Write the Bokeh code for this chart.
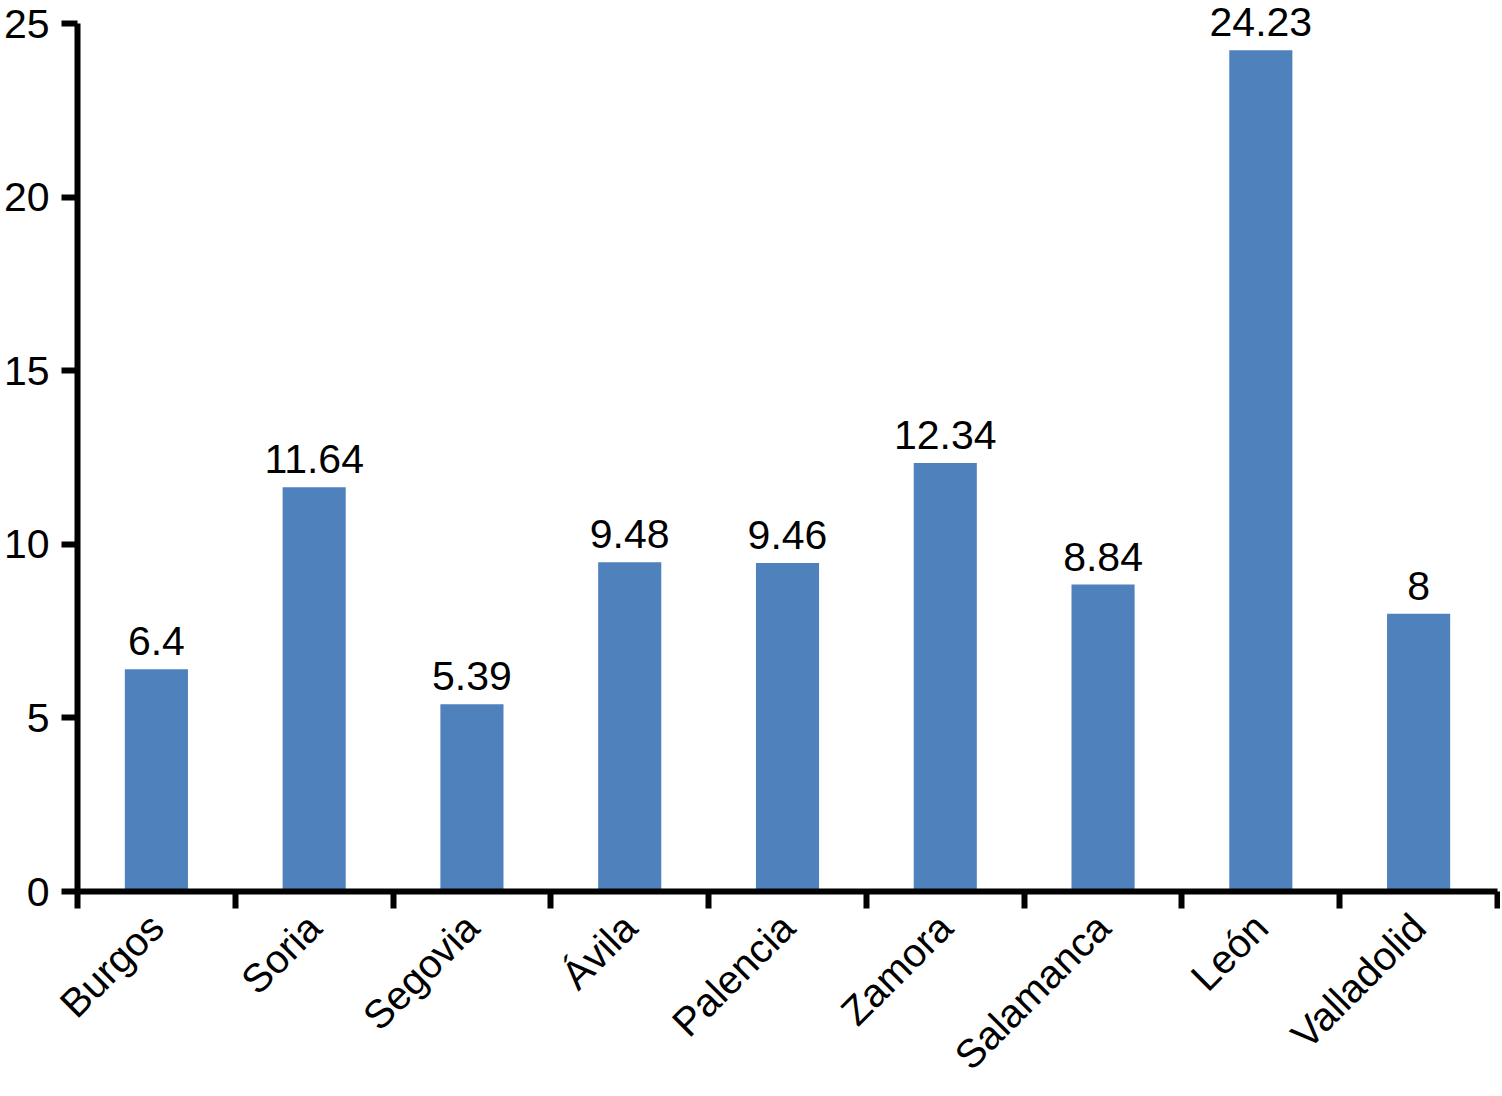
from bokeh.plotting import figure
from bokeh.models import Range1d, FixedTicker, ColumnDataSource, LabelSet
from bokeh.core.properties import value
from bokeh.embed import file_html
from bokeh.resources import INLINE
import math

categories = ["Burgos", "Soria", "Segovia", "Ávila", "Palencia", "Zamora", "Salamanca", "León", "Valladolid"]
values = [6.4, 11.64, 5.39, 9.48, 9.46, 12.34, 8.84, 24.23, 8]
y_ticks = [0, 5, 10, 15, 20, 25]

FONT = "Liberation Sans"
FS = "41px"
FSX = "40px"
BAR = "#4F81BD"

xs = [i + 0.5 for i in range(len(categories))]
labels = [f"{v:g}" for v in values]
src = ColumnDataSource(dict(x=xs, top=values, label=labels))

p = figure(width=1500, height=1096, x_range=Range1d(0, len(categories)), y_range=Range1d(0, 25.605),
           output_backend="svg", toolbar_location=None,
           min_border_left=77, min_border_top=2, min_border_right=3, min_border_bottom=205)
p.outline_line_color = None
p.grid.visible = False

p.vbar(x="x", top="top", bottom=0, width=0.4, source=src, fill_color=BAR, line_color=None)
p.add_layout(LabelSet(x="x", y="top", text="label", source=src, text_align="center",
                      text_baseline="alphabetic", y_offset=14, text_font=value(FONT),
                      text_font_size=value(FS), text_color="black"))

# y axis
ya = p.yaxis[0]
ya.ticker = FixedTicker(ticks=y_ticks)
ya.bounds = (0, 25)
ya.axis_line_width = 6
ya.major_tick_line_width = 6
ya.major_tick_out = 16
ya.major_tick_in = 0
ya.minor_tick_line_color = None
ya.major_label_text_font = FONT
ya.major_label_text_font_size = FS
ya.major_label_text_color = "black"
ya.major_label_standoff = 12

# x axis: labels at centres, ticks at boundaries
xa = p.xaxis[0]
xa.ticker = FixedTicker(ticks=xs, minor_ticks=list(range(len(categories) + 1)))
xa.major_label_overrides = {x: c for x, c in zip(xs, categories)}
xa.major_tick_line_color = None
xa.major_tick_out = 17
xa.major_tick_in = 0
xa.minor_tick_line_width = 6
xa.minor_tick_out = 17
xa.minor_tick_in = 0
xa.minor_tick_line_color = "black"
xa.axis_line_width = 6
xa.major_label_orientation = math.pi / 4
xa.major_label_text_font = FONT
xa.major_label_text_font_size = FSX
xa.major_label_text_color = "black"
xa.major_label_standoff = 12

open("out.html", "w").write(file_html(p, INLINE))
